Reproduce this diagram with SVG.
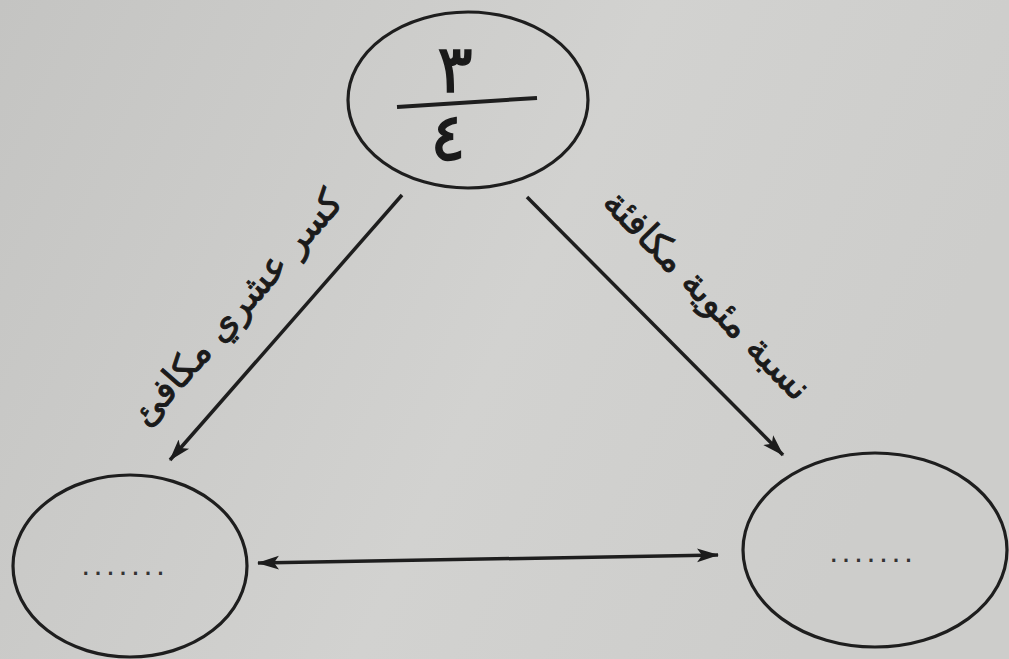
<svg xmlns="http://www.w3.org/2000/svg" width="1009" height="659" viewBox="0 0 1009 659">
  <defs>
    <linearGradient id="bg" x1="0" y1="0" x2="1" y2="0.3">
      <stop offset="0" stop-color="#c4c4c2"/>
      <stop offset="0.6" stop-color="#d2d2d0"/>
      <stop offset="1" stop-color="#cdcdcb"/>
    </linearGradient>
    <marker id="ah" viewBox="0 0 22 16" refX="21" refY="8" markerWidth="22" markerHeight="16" markerUnits="userSpaceOnUse" orient="auto-start-reverse">
      <path d="M0,1 L22,8 L0,15 L5,8 z" fill="#1c1c1c"/>
    </marker>
    <style>
      .node { fill: none; stroke: #1e1e1e; stroke-width: 3.2; }
      .conn { stroke: #1e1e1e; stroke-width: 3.5; fill: none; }
      .lbl { font-family: "DejaVu Sans", sans-serif; font-size: 37px; fill: #1a1a1a; stroke: #1a1a1a; stroke-width: 0.9px; text-anchor: middle; }
      .num { font-family: "DejaVu Sans", sans-serif; font-size: 66px; fill: #1a1a1a; stroke: #1a1a1a; stroke-width: 1.5px; text-anchor: middle; }
      .dots { font-family: "DejaVu Sans", sans-serif; font-size: 17px; font-weight: bold; letter-spacing: 6px; fill: #333; text-anchor: middle; }
    </style>
  </defs>
  <rect x="0" y="0" width="1009" height="659" fill="url(#bg)"/>

  <g id="node-top">
    <ellipse class="node" cx="468" cy="100" rx="120" ry="88"/>
    <text class="num" x="455" y="92">٣</text>
    <line x1="397" y1="107" x2="537" y2="98" stroke="#1e1e1e" stroke-width="4"/>
    <text class="num" x="448" y="160">٤</text>
  </g>

  <g id="node-left">
    <ellipse class="node" cx="130" cy="566" rx="117" ry="91"/>
    <text class="dots" x="126" y="575">.......</text>
  </g>

  <g id="node-right">
    <ellipse class="node" cx="875" cy="550" rx="132" ry="97"/>
    <text class="dots" x="874" y="562">.......</text>
  </g>

  <g id="connectors">
    <path class="conn" d="M402,195 L170,460" marker-end="url(#ah)"/>
    <path class="conn" d="M527,197 L783,455" marker-end="url(#ah)"/>
    <path class="conn" d="M258,563 L718,555" marker-start="url(#ah)" marker-end="url(#ah)"/>
    <text class="lbl" transform="translate(237,308) rotate(-48.8)" x="0" y="12">كسر عشري مكافئ</text>
    <text class="lbl" transform="translate(707,295) rotate(45.5)" x="0" y="12">نسبة مئوية مكافئة</text>
  </g>
</svg>
